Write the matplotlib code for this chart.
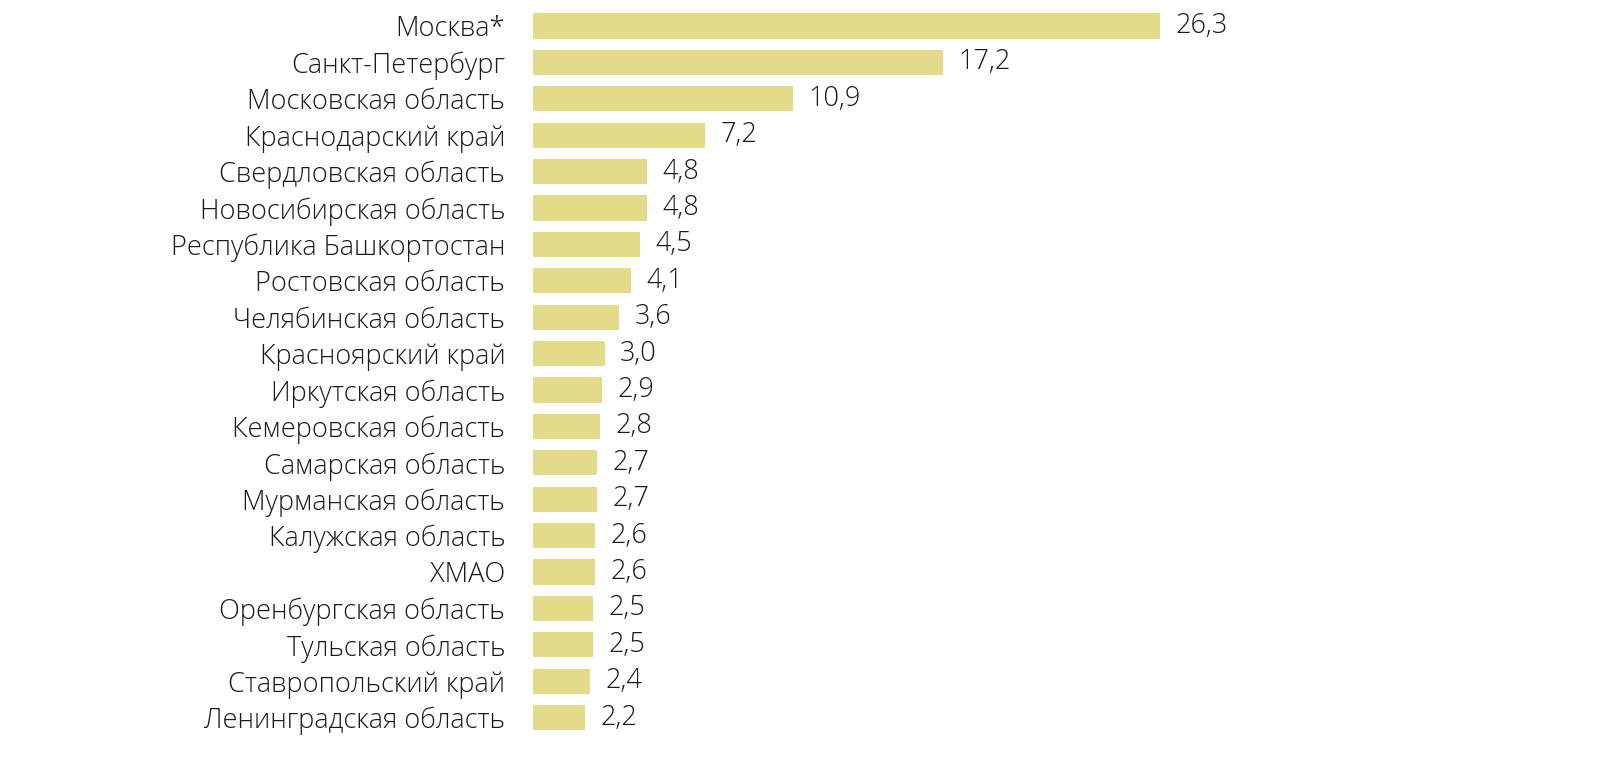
import matplotlib
matplotlib.use("Agg")
import matplotlib.pyplot as plt

regions = ["Москва*", "Санкт-Петербург", "Московская область", "Краснодарский край",
           "Свердловская область", "Новосибирская область", "Республика Башкортостан",
           "Ростовская область", "Челябинская область", "Красноярский край",
           "Иркутская область", "Кемеровская область", "Самарская область",
           "Мурманская область", "Калужская область", "ХМАО", "Оренбургская область",
           "Тульская область", "Ставропольский край", "Ленинградская область"]
values = [26.3, 17.2, 10.9, 7.2, 4.8, 4.8, 4.5, 4.1, 3.6, 3.0,
          2.9, 2.8, 2.7, 2.7, 2.6, 2.6, 2.5, 2.5, 2.4, 2.2]

plt.rcParams['font.family'] = ['Open Sans', 'DejaVu Sans']
plt.rcParams['font.weight'] = 300

W, H = 1622, 779
fig = plt.figure(figsize=(W / 100, H / 100), dpi=100)
px = 23.84      # pixels per unit
step = 36.4     # pixels per row
x0, yc0 = 533, 26
ax = fig.add_axes([x0 / W, 1 - (yc0 - step / 2 + 20 * step) / H, 30 * px / W, 20 * step / H])

ypos = list(range(len(regions)))
ax.barh(ypos, values, height=0.69, color="#e3da8a")
ax.set_xlim(0, 30)
ax.set_ylim(len(regions) - 0.5, -0.5)

fs = 19.5
for y, v in zip(ypos, values):
    ax.text(v + 0.65, y, f"{v:.1f}".replace(".", ","), va="center", ha="left",
            fontsize=fs, color="#1a1a1a", fontweight=300)

ax.set_yticks(ypos)
ax.set_yticklabels(regions, fontsize=fs, color="#1a1a1a", fontweight=300)
ax.tick_params(axis="y", length=0, pad=20)
ax.set_xticks([])
for s in ax.spines.values():
    s.set_visible(False)

fig.savefig("out.png", dpi=100)
